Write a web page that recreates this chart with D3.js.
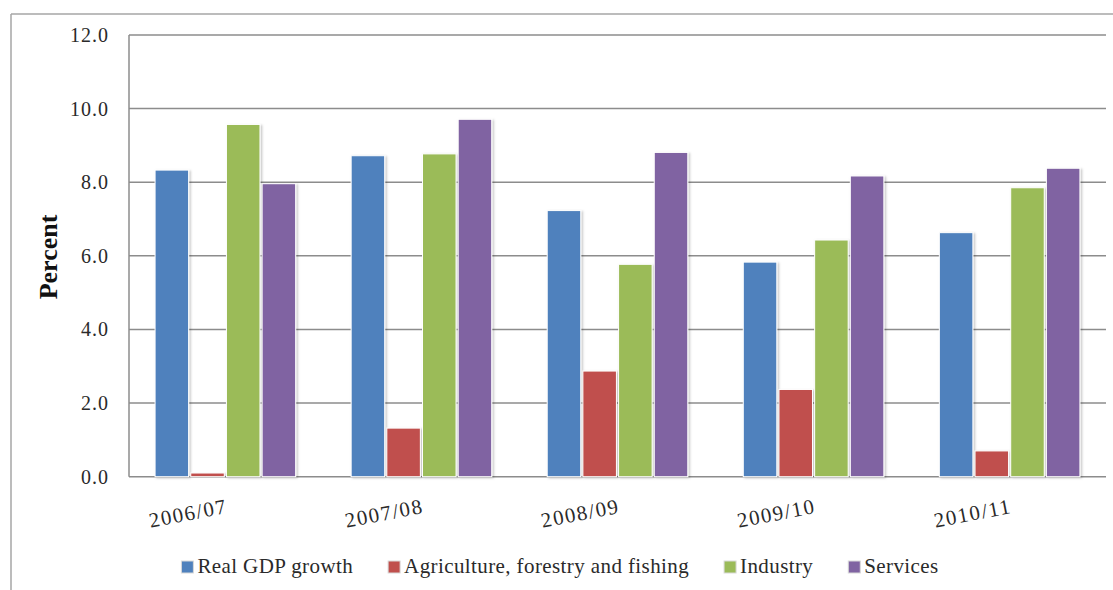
<!DOCTYPE html>
<html>
<head>
<meta charset="utf-8">
<script src="https://cdn.jsdelivr.net/npm/d3@7"></script>
<style>
  html, body { margin: 0; padding: 0; background: #fff; }
  svg { display: block; }
  svg text { font-family: 'Liberation Serif', 'Times New Roman', serif !important; }
</style>
</head>
<body>
<svg id="chart" width="1113" height="590"></svg>
<script>
const categories = ["2006/07", "2007/08", "2008/09", "2009/10", "2010/11"];
const seriesNames = ["Real GDP growth", "Agriculture, forestry and fishing", "Industry", "Services"];
const realGDP     = [8.33, 8.72, 7.23, 5.83, 6.63];
const agriculture = [0.10, 1.32, 2.87, 2.37, 0.70];
const industry    = [9.57, 8.77, 5.77, 6.43, 7.85];
const services    = [7.96, 9.71, 8.81, 8.17, 8.38];
const yTicks = [0, 2, 4, 6, 8, 10, 12];
const colors = ["#4F81BD", "#C0504D", "#9BBB59", "#8064A2"];

const seriesValues = [realGDP, agriculture, industry, services];
const data = categories.map((c, i) => ({
  cat: c,
  vals: seriesNames.map((s, j) => ({ key: s, value: seriesValues[j][i], idx: j }))
}));

const FONT = "'Liberation Serif', serif";
const svg = d3.select("#chart");
const L = 129, R = 1106, T = 35, B = 476.7;

// drop shadow
const defs = svg.append("defs");
const f = defs.append("filter").attr("id", "shadow").attr("x", "-20%").attr("y", "-20%").attr("width", "140%").attr("height", "140%");
f.append("feDropShadow").attr("dx", 1.5).attr("dy", 1).attr("stdDeviation", 1).attr("flood-color", "#000").attr("flood-opacity", 0.25);

// outer border (top + left)
svg.append("line").attr("x1", 11).attr("x2", 1113).attr("y1", 14).attr("y2", 14).attr("stroke", "#a6a6a6").attr("stroke-width", 1.5);
svg.append("line").attr("x1", 11).attr("x2", 11).attr("y1", 14).attr("y2", 590).attr("stroke", "#a6a6a6").attr("stroke-width", 1.5);

const y = d3.scaleLinear().domain([0, 12]).range([B, T]);
const x0 = d3.scaleBand().domain(categories).range([L, R]).paddingInner(0.283).paddingOuter(0.133);
const x1 = d3.scaleBand().domain(seriesNames).range([0, x0.bandwidth()]).paddingInner(0.06);

// gridlines
svg.append("g").selectAll("line").data(yTicks).join("line")
  .attr("x1", L).attr("x2", R)
  .attr("y1", d => y(d)).attr("y2", d => y(d))
  .attr("stroke", "#8c8c8c").attr("stroke-width", 1.5);

// y axis line
svg.append("line").attr("x1", L).attr("x2", L).attr("y1", T).attr("y2", B).attr("stroke", "#8c8c8c").attr("stroke-width", 1.5);

// y axis labels
const yAxis = d3.axisLeft(y).tickValues(yTicks).tickFormat(d3.format(".1f")).tickSize(0).tickPadding(21);
const gy = svg.append("g").attr("transform", `translate(${L},0)`).call(yAxis);
gy.attr("font-family", FONT);
gy.select(".domain").remove();
gy.selectAll("text").attr("font-size", 20).style("font-family", FONT).style("letter-spacing", "1px")
  .attr("fill", "#2a2a2a").attr("dx", 1);

// bars
const groups = svg.append("g").selectAll("g").data(data).join("g")
  .attr("transform", d => `translate(${x0(d.cat)},0)`);
groups.selectAll("rect").data(d => d.vals).join("rect")
  .attr("x", d => x1(d.key))
  .attr("y", d => y(d.value))
  .attr("width", x1.bandwidth())
  .attr("height", d => y(0) - y(d.value))
  .attr("fill", d => colors[d.idx])
  .attr("stroke", "#fff").attr("stroke-width", 1)
  .attr("filter", "url(#shadow)");

// x axis labels (rotated)
const xAxis = d3.axisBottom(x0).tickSize(0).tickPadding(0);
const gx = svg.append("g").attr("transform", `translate(0,${B})`).call(xAxis);
gx.attr("font-family", FONT);
gx.select(".domain").remove();
gx.selectAll("text")
  .attr("font-size", 21).style("font-family", FONT).style("letter-spacing", "1.5px")
  .attr("fill", "#2a2a2a")
  .attr("text-anchor", "end")
  .attr("dy", null)
  .attr("y", 0)
  .attr("transform", "translate(3,36) rotate(-11)");

// y title
svg.append("text")
  .attr("transform", "translate(57,257) rotate(-90)")
  .attr("text-anchor", "middle")
  .style("font-family", FONT)
  .attr("font-size", 26).attr("font-weight", "bold")
  .attr("fill", "#111")
  .text("Percent");

// legend
const legend = svg.append("g");
const items = legend.selectAll("g").data(seriesNames).join("g");
items.append("rect").attr("x", 0).attr("y", -12).attr("width", 12).attr("height", 12)
  .attr("fill", (d, i) => colors[i]).attr("stroke", "#d9d9d9").attr("stroke-width", 1);
items.append("text").attr("x", 16).attr("y", 0).attr("font-size", 21)
  .style("font-family", FONT).style("letter-spacing", "0.4px")
  .attr("fill", "#2a2a2a").text(d => d);
let widths = [];
items.each(function() { widths.push(16 + this.querySelector("text").getComputedTextLength()); });
const gap = 35;
const total = d3.sum(widths) + gap * (widths.length - 1);
let cx = 560 - total / 2;
items.attr("transform", (d, i) => {
  const t = `translate(${cx},573)`;
  cx += widths[i] + gap;
  return t;
});
</script>
</body>
</html>
